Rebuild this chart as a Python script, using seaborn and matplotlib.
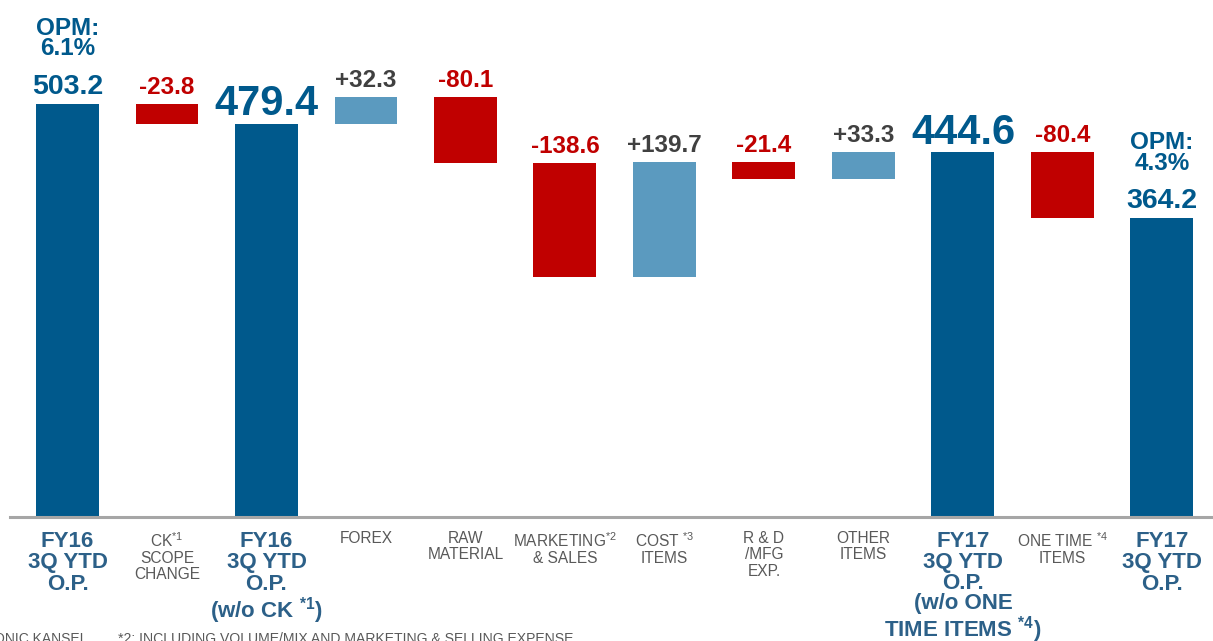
import matplotlib
matplotlib.use("Agg")
import matplotlib.pyplot as plt
import seaborn as sns
import numpy as np

# ---------------- data ----------------
categories = [
    "FY16\n3Q YTD\nO.P.",
    "CK$^{*1}$\nSCOPE\nCHANGE",
    "FY16\n3Q YTD\nO.P.\n(w/o CK $^{\\mathbf{*1}}$)",
    "FOREX",
    "RAW\nMATERIAL",
    "MARKETING$^{*2}$\n& SALES",
    "COST $^{*3}$\nITEMS",
    "R & D\n/MFG\nEXP.",
    "OTHER\nITEMS",
    "FY17\n3Q YTD\nO.P.\n(w/o ONE\nTIME ITEMS $^{\\mathbf{*4}}$)",
    "ONE TIME $^{*4}$\nITEMS",
    "FY17\n3Q YTD\nO.P.",
]
values = [503.2, -23.8, 479.4, 32.3, -80.1, -138.6, 139.7, -21.4, 33.3, 444.6, -80.4, 364.2]
is_total = [True, False, True, False, False, False, False, False, False, True, False, True]
opm_labels = {0: "OPM:\n6.1%", 11: "OPM:\n4.3%"}
footnotes = ["*1: CK=CALSONIC KANSEI", "*2: INCLUDING VOLUME/MIX AND MARKETING & SELLING EXPENSE"]

# ---------------- waterfall geometry from data ----------------
bottoms, heights, tops = [], [], []
running = 0.0
for v, t in zip(values, is_total):
    if t:
        bottoms.append(0.0); heights.append(v); tops.append(v)
        running = v
    else:
        new = running + v
        bottoms.append(min(running, new)); heights.append(abs(v)); tops.append(max(running, new))
        running = new

DARK = "#00598C"
LIGHT = "#5B9ABF"
RED = "#C00000"
GRAY_TXT = "#404040"
CAT_GRAY = "#595959"
CAT_BLUE = "#2C6088"

colors = [DARK if t else (LIGHT if v > 0 else RED) for v, t in zip(values, is_total)]

plt.rcParams["font.family"] = ["Liberation Sans", "DejaVu Sans"]
plt.rcParams["mathtext.fontset"] = "custom"
plt.rcParams["mathtext.rm"] = "Liberation Sans"
plt.rcParams["mathtext.it"] = "Liberation Sans:italic"
plt.rcParams["mathtext.bf"] = "Liberation Sans:bold"

W, H = 1213, 641
fig = plt.figure(figsize=(W / 100, H / 100), dpi=100)
ax = fig.add_axes([10 / W, (H - 517) / H, 1 - 10 / W, 517 / H])

xidx = [str(i) for i in range(len(values))]
sns.barplot(x=xidx, y=heights, order=xidx, color=DARK, width=0.633,
            ax=ax, saturation=1, linewidth=0)
for p, b, c in zip(ax.patches, bottoms, colors):
    p.set_y(b)
    p.set_facecolor(c)

ax.set_xlim(-0.578, 11.513)
ax.set_ylim(0, 630)
for s in ax.spines.values():
    s.set_visible(False)
ax.set_yticks([])
ax.set_ylabel("")
ax.set_xlabel("")
ax.axhline(0, color="#A6A6A6", lw=2.2, zorder=3, clip_on=False)

# value labels
for i, (v, t, top) in enumerate(zip(values, is_total, tops)):
    if t:
        big = i in (2, 9)
        fs = 30 if big else 20.5
        off = 6 if big else 7.5
        txt = f"{v:.1f}"
        col = DARK
    else:
        fs = 17.5
        off = 7
        txt = f"{v:+.1f}"
        col = RED if v < 0 else GRAY_TXT
    ax.annotate(txt, (i, top), xytext=(0, off), textcoords="offset points",
                ha="center", va="baseline", fontsize=fs, fontweight="bold", color=col)
    if i in opm_labels:
        ax.annotate(opm_labels[i], (i, top), xytext=(0, 35), textcoords="offset points",
                    ha="center", va="baseline", fontsize=17.5, fontweight="bold",
                    color=DARK, linespacing=0.88)

# category labels
ax.set_xticks(range(len(categories)))
ax.set_xticklabels(categories)
ax.tick_params(axis="x", length=0, pad=10)
for i, (lab, t) in enumerate(zip(ax.get_xticklabels(), is_total)):
    lab.set_va("top")
    lab.set_ha("center")
    if t:
        lab.set_fontsize(16)
        lab.set_fontweight("bold")
        lab.set_color(CAT_BLUE)
        lab.set_linespacing(0.99 if i == 9 else 1.03)
    else:
        lab.set_fontsize(11.2)
        lab.set_color(CAT_GRAY)
        lab.set_linespacing(1.12)

# footnotes (cut at the bottom edge as in the reference)
fig.text(84 / W, -2 / H, footnotes[0], ha="right", va="baseline", fontsize=10, color=CAT_GRAY)
fig.text(118 / W, -2 / H, footnotes[1], ha="left", va="baseline", fontsize=10.1, color=CAT_GRAY)

fig.savefig("out.png", dpi=100)
